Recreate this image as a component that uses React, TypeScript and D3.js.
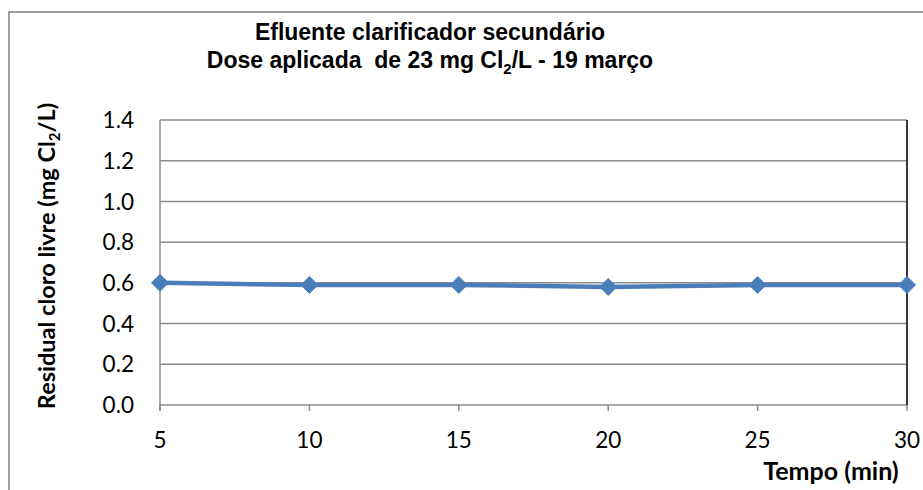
import React from "react";
import * as d3 from "d3";

const tempo = [5, 10, 15, 20, 25, 30];
const residual = [0.6, 0.59, 0.59, 0.58, 0.59, 0.59];
const yTicks = [0, 0.2, 0.4, 0.6, 0.8, 1.0, 1.2, 1.4];
const xTicks = [5, 10, 15, 20, 25, 30];

const W = 923;
const H = 490;
const plot = { left: 160, right: 907, top: 120, bottom: 405 };

export default function App() {
  const x = d3.scaleLinear().domain([5, 30]).range([plot.left, plot.right]);
  const y = d3.scaleLinear().domain([0, 1.4]).range([plot.bottom, plot.top]);
  const line = d3
    .line<number>()
    .x((_, i) => x(tempo[i]))
    .y((d) => y(d));
  const diamond = (cx: number, cy: number, r: number) =>
    `M${cx},${cy - r}L${cx + r},${cy}L${cx},${cy + r}L${cx - r},${cy}Z`;
  const tickFont = "Lato, 'Open Sans', sans-serif";
  const titleFont = "'Liberation Sans', Arial, sans-serif";

  return (
    <svg
      width={W}
      height={H}
      style={{ position: "absolute", left: 0, top: 0, display: "block", background: "#fff" }}
    >
      <rect x={9} y={12} width={W} height={H} fill="#fff" stroke="#888" strokeWidth={1.6} />
      {/* title */}
      <text x={430} y={40} textAnchor="middle" fontFamily={titleFont} fontWeight="bold" fontSize={23}>
        Efluente clarificador secundário
      </text>
      <text x={430} y={68} textAnchor="middle" fontFamily={titleFont} fontWeight="bold" fontSize={23} xmlSpace="preserve">
        <tspan>Dose aplicada  de 23 mg Cl</tspan>
        <tspan fontSize={15} dy={6}>2</tspan>
        <tspan dy={-6}>/L - 19 março</tspan>
      </text>
      {/* gridlines */}
      {yTicks.map((t) => (
        <line key={t} x1={plot.left} x2={plot.right} y1={y(t)} y2={y(t)} stroke="#8c8c8c" strokeWidth={1.5} />
      ))}
      {/* right border */}
      <line x1={plot.right} x2={plot.right} y1={plot.top} y2={plot.bottom} stroke="#222" strokeWidth={1.8} />
      {/* left axis */}
      <line x1={plot.left} x2={plot.left} y1={plot.top} y2={plot.bottom + 6} stroke="#8c8c8c" strokeWidth={1.5} />
      {/* x ticks */}
      {xTicks.map((t) => (
        <line key={t} x1={x(t)} x2={x(t)} y1={plot.bottom} y2={plot.bottom + 6} stroke="#8c8c8c" strokeWidth={1.5} />
      ))}
      {/* y tick labels */}
      {yTicks.map((t) => (
        <text key={t} x={134} y={y(t)} dy="0.36em" textAnchor="end" fontFamily={tickFont} fontSize={22.5} fill="#000">
          {t.toFixed(1)}
        </text>
      ))}
      {/* x tick labels */}
      {xTicks.map((t) => (
        <text key={t} x={x(t)} y={448} textAnchor="middle" fontFamily={tickFont} fontSize={22.5} fill="#000">
          {t}
        </text>
      ))}
      {/* axis titles */}
      <text x={831} y={480} textAnchor="middle" fontFamily={tickFont} fontWeight="bold" fontSize={25}>
        Tempo (min)
      </text>
      <text transform="translate(55,256) rotate(-90)" textAnchor="middle" fontFamily={tickFont} fontWeight="bold" fontSize={23.5}>
        <tspan>Residual cloro livre (mg Cl</tspan>
        <tspan fontSize={15} dy={5}>2</tspan>
        <tspan dy={-5}>/L)</tspan>
      </text>
      {/* series */}
      <path d={line(residual) ?? ""} fill="none" stroke="#4a7ebb" strokeWidth={4.5} strokeLinejoin="round" />
      {residual.map((v, i) => (
        <path key={i} d={diamond(x(tempo[i]), y(v), 8.5)} fill="#4a7ebb" stroke="#4a7ebb" strokeWidth={1} />
      ))}
    </svg>
  );
}
